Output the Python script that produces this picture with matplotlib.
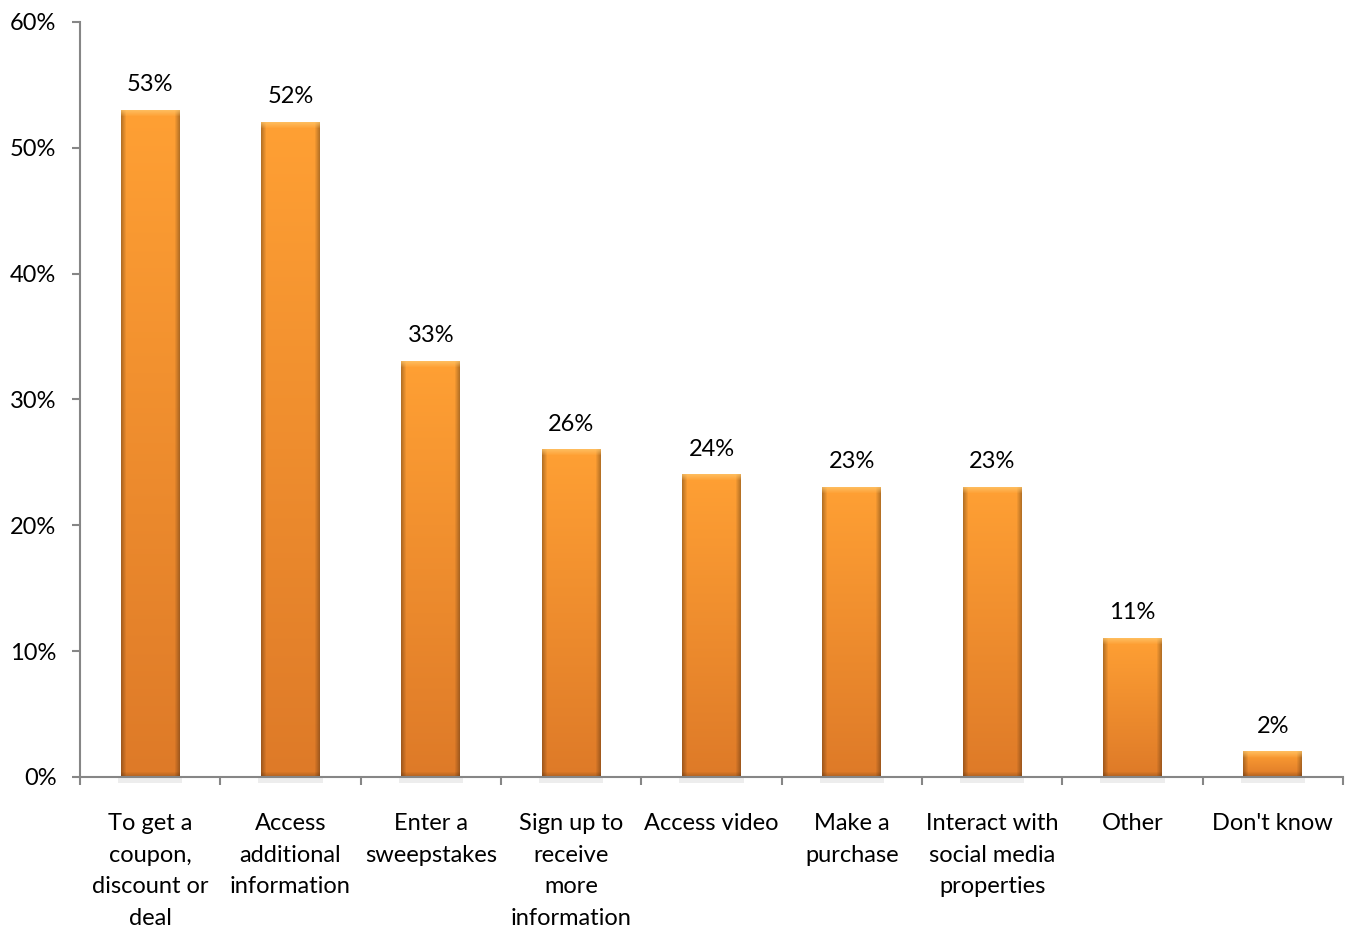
import numpy as np
import matplotlib.pyplot as plt
from matplotlib.ticker import FuncFormatter

categories = [
    'To get a\ncoupon,\ndiscount or\ndeal',
    'Access\nadditional\ninformation',
    'Enter a\nsweepstakes',
    'Sign up to\nreceive\nmore\ninformation',
    'Access video',
    'Make a\npurchase',
    'Interact with\nsocial media\nproperties',
    'Other',
    "Don't know",
]
values = [53, 52, 33, 26, 24, 23, 23, 11, 2]

plt.rcParams['font.family'] = ['Lato', 'DejaVu Sans']

fig = plt.figure(figsize=(13.52, 9.35), dpi=100)
ax = fig.add_axes([0.0592, 0.169, 0.9341, 0.8075])

ymax = 60
ax.set_xlim(-0.5, len(values) - 0.5)
ax.set_ylim(0, ymax)
half = 0.21

# pixel size of the axes, used to size the bevel images
bbox = ax.get_window_extent()
px_per_x = bbox.width / len(values)
px_per_y = bbox.height / ymax

top_col = np.array([255, 160, 52]) / 255
bot_col = np.array([222, 122, 40]) / 255


def bar_image(w_px, h_px):
    h_px = max(h_px, 6)
    t = np.linspace(0, 1, h_px)[:, None, None]
    img = top_col * (1 - t) + bot_col * t
    img = np.repeat(img, w_px, axis=1)
    cols = np.arange(w_px)
    rows = np.arange(h_px)
    # darker sides
    edge = np.minimum(cols, w_px - 1 - cols)
    side = np.clip(1 - edge / 5.0, 0, 1)[None, :, None]
    img = img * (1 - 0.28 * side)
    # light top bevel
    topb = np.clip(1 - rows / 6.0, 0, 1)[:, None, None]
    light = np.array([255, 200, 110]) / 255
    img = img * (1 - 0.7 * topb) + light * 0.7 * topb
    # slightly darker bottom
    botb = np.clip(1 - (h_px - 1 - rows) / 5.0, 0, 1)[:, None, None]
    img = img * (1 - 0.2 * botb)
    return np.clip(img, 0, 1)


for i, v in enumerate(values):
    w_px = int(round(2 * half * px_per_x))
    h_px = int(round(v * px_per_y))
    # thin shadow under the bar
    ax.bar(i, 0.45, width=2 * half + 0.04, bottom=-0.45, color='#000000',
           alpha=0.07, zorder=1, linewidth=0, clip_on=False)
    ax.imshow(bar_image(w_px, h_px), extent=(i - half, i + half, 0, v),
              aspect='auto', zorder=2, interpolation='bilinear')
    ax.text(i, v + 2.05, f'{v}%', ha='center', va='center', fontsize=17,
            color='black')

ax.set_xlim(-0.5, len(values) - 0.5)
ax.set_ylim(0, ymax)

ax.set_yticks(range(0, 61, 10))
ax.yaxis.set_major_formatter(FuncFormatter(lambda y, _: f'{int(y)}%'))
ax.set_xticks(range(len(values)))
ax.set_xticklabels(categories, fontsize=17, linespacing=1.62, va='top')
ax.set_xticks(np.arange(-0.5, len(values)), minor=True)
ax.tick_params(axis='x', which='major', length=0, pad=26)
ax.tick_params(axis='x', which='minor', length=6, color='#868686', width=1.5)
ax.tick_params(axis='y', length=6, color='#868686', width=1.5, labelsize=17,
               pad=11)

for s in ['top', 'right']:
    ax.spines[s].set_visible(False)
for s in ['left', 'bottom']:
    ax.spines[s].set_color('#868686')
    ax.spines[s].set_linewidth(1.5)
    ax.spines[s].set_zorder(3)

fig.savefig('out.png', dpi=100)
